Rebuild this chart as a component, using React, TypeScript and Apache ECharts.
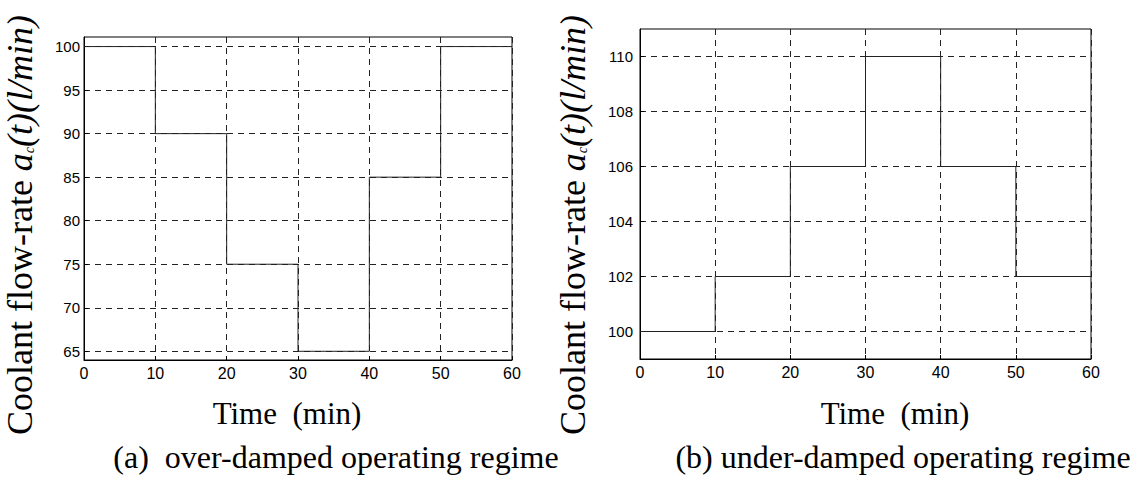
import React, { useEffect, useRef } from "react";
import * as echarts from "echarts";

// Coolant flow-rate set-point schedules (l/min), piecewise constant over 10-minute intervals
const timeMin = [0, 10, 20, 30, 40, 50, 60];
const overDamped = [100, 90, 75, 65, 85, 100, 100];
const underDamped = [100, 102, 106, 110, 106, 102, 102];

const timeTicks = [0, 10, 20, 30, 40, 50, 60];
const overTicks = [65, 70, 75, 80, 85, 90, 95, 100];
const underTicks = [100, 102, 104, 106, 108, 110];

const xTitle = "Time  (min)";
const captionA = "(a)  over-damped operating regime";
const captionB = "(b) under-damped operating regime";

const SERIF = "'Liberation Serif', 'Times New Roman', serif";
const SANS = "'Liberation Sans', Arial, sans-serif";

function pairs(xs: number[], ys: number[]) {
  return xs.map((x, i) => [x, ys[i]]);
}

function xAxisFor(gridIndex: number) {
  return {
    type: "value",
    gridIndex,
    min: 0,
    max: 60,
    axisLine: { show: true, lineStyle: { color: "#000", width: 1 } },
    axisTick: { show: true, inside: true, length: 4, customValues: timeTicks, lineStyle: { color: "#000" } },
    axisLabel: { customValues: timeTicks, color: "#000", fontFamily: SANS, fontSize: 16, margin: 5 },
    splitLine: { show: true, lineStyle: { color: "#222", width: 1, type: [6, 5] } },
  };
}

function yAxisFor(gridIndex: number, min: number, max: number, ticks: number[], margin: number) {
  return {
    type: "value",
    gridIndex,
    min,
    max,
    axisLine: { show: true, lineStyle: { color: "#000", width: 1 } },
    axisTick: { show: true, inside: true, length: 4, customValues: ticks, lineStyle: { color: "#000" } },
    axisLabel: { customValues: ticks, color: "#000", fontFamily: SANS, fontSize: 15, margin },
    splitLine: { show: true, lineStyle: { color: "#222", width: 1, type: [6, 5] } },
  };
}

function yTitle(cx: number, cy: number) {
  return {
    type: "text",
    x: cx,
    y: cy,
    rotation: Math.PI / 2,
    style: {
      text: "{n|Coolant flow-rate }{i|a}{s|c}{i|(t)(l/min)}",
      align: "center",
      verticalAlign: "middle",
      fill: "#000",
      rich: {
        n: { fontFamily: SERIF, fontSize: 36, fill: "#000" },
        i: { fontFamily: SERIF, fontSize: 36, fontStyle: "italic", fill: "#000" },
        s: { fontFamily: SERIF, fontSize: 14, fontStyle: "italic", fill: "#000", padding: [18, 0, 0, 0] },
      },
    },
  };
}

function plainText(x: number, y: number, text: string, size: number) {
  return {
    type: "text",
    x,
    y,
    style: {
      text,
      align: "center",
      verticalAlign: "middle",
      fill: "#000",
      fontFamily: SERIF,
      fontSize: size,
    },
  };
}

export default function App() {
  const ref = useRef<HTMLDivElement>(null);

  useEffect(() => {
    if (!ref.current) return;
    const chart = echarts.init(ref.current, undefined, { renderer: "svg" });
    chart.setOption({
      animation: false,
      backgroundColor: "#fff",
      grid: [
        { left: 84, top: 37, width: 428, height: 323, show: true, borderColor: "#000", borderWidth: 1, backgroundColor: "transparent" },
        { left: 640, top: 29, width: 451, height: 330, show: true, borderColor: "#000", borderWidth: 1, backgroundColor: "transparent" },
      ],
      xAxis: [xAxisFor(0), xAxisFor(1)],
      yAxis: [yAxisFor(0, 64, 101.1, overTicks, 4), yAxisFor(1, 99, 111, underTicks, 7)],
      series: [
        {
          type: "line",
          xAxisIndex: 0,
          yAxisIndex: 0,
          step: "end",
          symbol: "none",
          data: pairs(timeMin, overDamped),
          lineStyle: { color: "#222", width: 1 },
        },
        {
          type: "line",
          xAxisIndex: 1,
          yAxisIndex: 1,
          step: "end",
          symbol: "none",
          data: pairs(timeMin, underDamped),
          lineStyle: { color: "#222", width: 1 },
        },
      ],
      graphic: [
        yTitle(20, 225),
        yTitle(573, 225),
        plainText(287, 413, xTitle, 31),
        plainText(895, 413, xTitle, 31),
        plainText(336, 457, captionA, 32),
        plainText(903, 457, captionB, 32),
      ],
    });
    return () => chart.dispose();
  }, []);

  return (
    <div
      ref={ref}
      style={{ position: "fixed", left: 0, top: 0, width: 1139, height: 491, background: "#fff" }}
    />
  );
}
